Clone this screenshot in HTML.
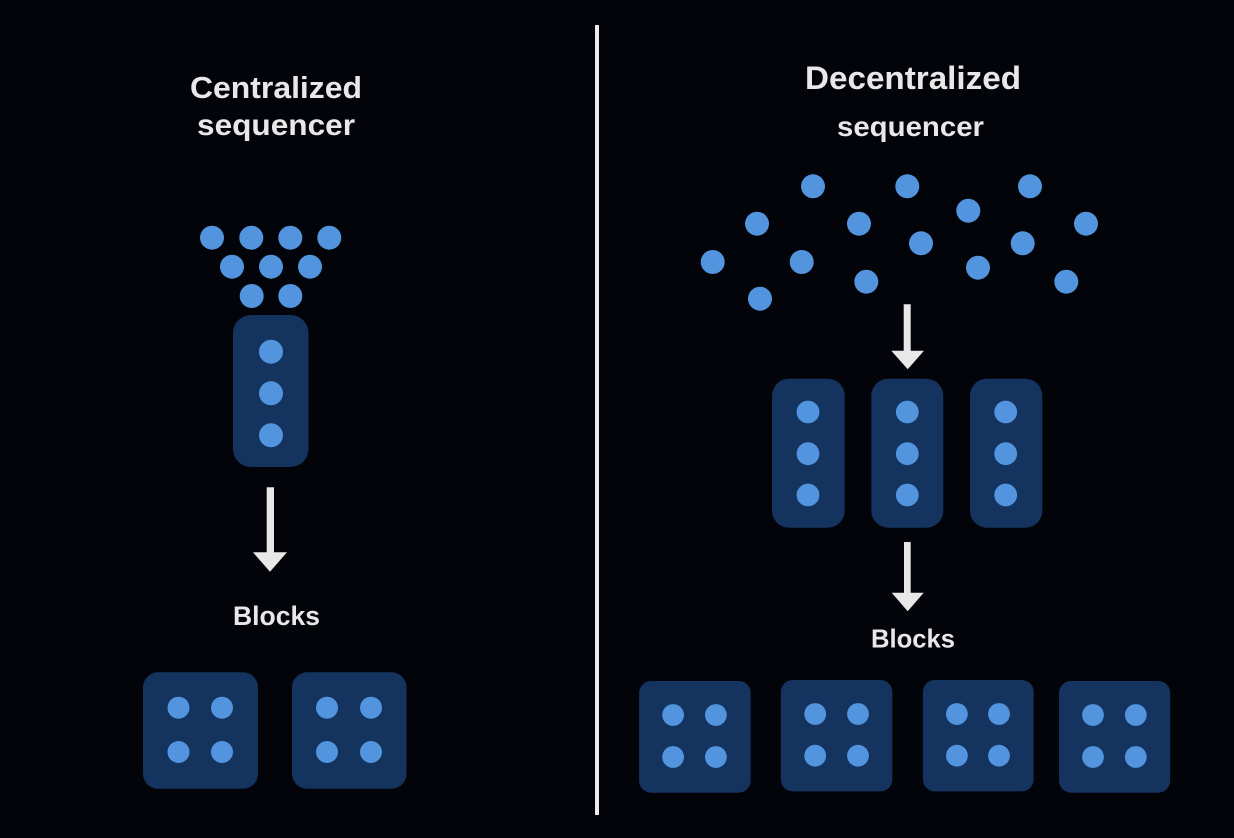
<!DOCTYPE html>
<html>
<head>
<meta charset="utf-8">
<style>
html,body{margin:0;padding:0;background:#030409;width:1234px;height:838px;overflow:hidden}
svg{display:block}
text{font-family:"Liberation Sans",sans-serif;font-weight:bold;fill:#e8e8e8}
.b{fill:#14335f}
.d{fill:#5295de}
.w{fill:#e8e8e8}
</style>
</head>
<body>
<svg width="1234" height="838" viewBox="0 0 1234 838" xmlns="http://www.w3.org/2000/svg">
<rect width="1234" height="838" fill="#030409"/>
<rect x="595" y="25" width="4" height="790" fill="#ececec"/>

<text x="190" y="98" font-size="31" textLength="172" lengthAdjust="spacingAndGlyphs">Centralized</text>
<text x="197" y="135" font-size="30" textLength="158" lengthAdjust="spacingAndGlyphs">sequencer</text>
<text x="233" y="625" font-size="27" textLength="87" lengthAdjust="spacingAndGlyphs">Blocks</text>
<text x="805" y="89" font-size="32" textLength="216" lengthAdjust="spacingAndGlyphs">Decentralized</text>
<text x="837" y="136" font-size="28" textLength="147" lengthAdjust="spacingAndGlyphs">sequencer</text>
<text x="871" y="647.5" font-size="26" textLength="84" lengthAdjust="spacingAndGlyphs">Blocks</text>

<g class="d">
<circle cx="212" cy="237.7" r="12"/><circle cx="251.3" cy="237.7" r="12"/><circle cx="290.3" cy="237.7" r="12"/><circle cx="329.3" cy="237.7" r="12"/>
<circle cx="232" cy="266.7" r="12"/><circle cx="271" cy="266.7" r="12"/><circle cx="310" cy="266.7" r="12"/>
<circle cx="251.7" cy="296" r="12"/><circle cx="290.3" cy="296" r="12"/>

<circle cx="813" cy="186.3" r="12"/><circle cx="907.3" cy="186.3" r="12"/><circle cx="1030" cy="186.3" r="12"/>
<circle cx="968.3" cy="210.7" r="12"/><circle cx="757" cy="223.7" r="12"/><circle cx="859" cy="223.7" r="12"/>
<circle cx="1086" cy="223.7" r="12"/><circle cx="921" cy="243.3" r="12"/><circle cx="1022.7" cy="243.3" r="12"/>
<circle cx="712.7" cy="262" r="12"/><circle cx="801.7" cy="262" r="12"/><circle cx="978" cy="267.7" r="12"/>
<circle cx="866.3" cy="281.7" r="12"/><circle cx="1066.3" cy="281.7" r="12"/><circle cx="760" cy="298.7" r="12"/>
</g>

<rect class="b" x="233" y="315" width="75.5" height="152" rx="18"/>
<rect class="b" x="143" y="672.3" width="115" height="116.5" rx="15"/>
<rect class="b" x="292" y="672.3" width="114.5" height="116.5" rx="15"/>
<rect class="b" x="772" y="378.7" width="72.7" height="149" rx="17"/>
<rect class="b" x="871.3" y="378.7" width="72" height="149" rx="17"/>
<rect class="b" x="970" y="378.7" width="72.3" height="149" rx="17"/>
<rect class="b" x="639.1" y="681" width="111.6" height="111.7" rx="12"/>
<rect class="b" x="780.8" y="680" width="111.6" height="111.4" rx="12"/>
<rect class="b" x="922.9" y="680" width="110.8" height="111.4" rx="12"/>
<rect class="b" x="1059" y="681" width="111.2" height="111.7" rx="12"/>

<g class="d">
<circle cx="271" cy="351.7" r="12"/><circle cx="271" cy="393.3" r="12"/><circle cx="271" cy="435.3" r="12"/>

<circle cx="178.5" cy="707.7" r="11"/><circle cx="222" cy="707.7" r="11"/><circle cx="178.5" cy="752" r="11"/><circle cx="222" cy="752" r="11"/>
<circle cx="327" cy="707.7" r="11"/><circle cx="371" cy="707.7" r="11"/><circle cx="327" cy="752" r="11"/><circle cx="371" cy="752" r="11"/>

<circle cx="808" cy="412" r="11.4"/><circle cx="808" cy="453.7" r="11.4"/><circle cx="808" cy="495" r="11.4"/>
<circle cx="907.3" cy="412" r="11.4"/><circle cx="907.3" cy="453.7" r="11.4"/><circle cx="907.3" cy="495" r="11.4"/>
<circle cx="1005.7" cy="412" r="11.4"/><circle cx="1005.7" cy="453.7" r="11.4"/><circle cx="1005.7" cy="495" r="11.4"/>

<circle cx="673.1" cy="715" r="10.9"/><circle cx="715.9" cy="715" r="10.9"/><circle cx="673.1" cy="757" r="10.9"/><circle cx="715.9" cy="757" r="10.9"/>
<circle cx="815.2" cy="714" r="10.9"/><circle cx="858" cy="714" r="10.9"/><circle cx="815.2" cy="755.7" r="10.9"/><circle cx="858" cy="755.7" r="10.9"/>
<circle cx="956.9" cy="714" r="10.9"/><circle cx="999" cy="714" r="10.9"/><circle cx="956.9" cy="755.7" r="10.9"/><circle cx="999" cy="755.7" r="10.9"/>
<circle cx="1093" cy="715" r="10.9"/><circle cx="1135.8" cy="715" r="10.9"/><circle cx="1093" cy="757" r="10.9"/><circle cx="1135.8" cy="757" r="10.9"/>
</g>

<g class="w">
<polygon points="266.7,487.3 274,487.3 274,552.3 287,552.3 270,571.7 253,552.3 266.7,552.3"/>
<polygon points="903.7,304.3 910.7,304.3 910.7,350.7 924,350.7 907.7,369.3 891.3,350.7 903.7,350.7"/>
<polygon points="904,542 910.7,542 910.7,592.7 923.7,592.7 907.7,611.3 891.7,592.7 904,592.7"/>
</g>
</svg>
</body>
</html>
